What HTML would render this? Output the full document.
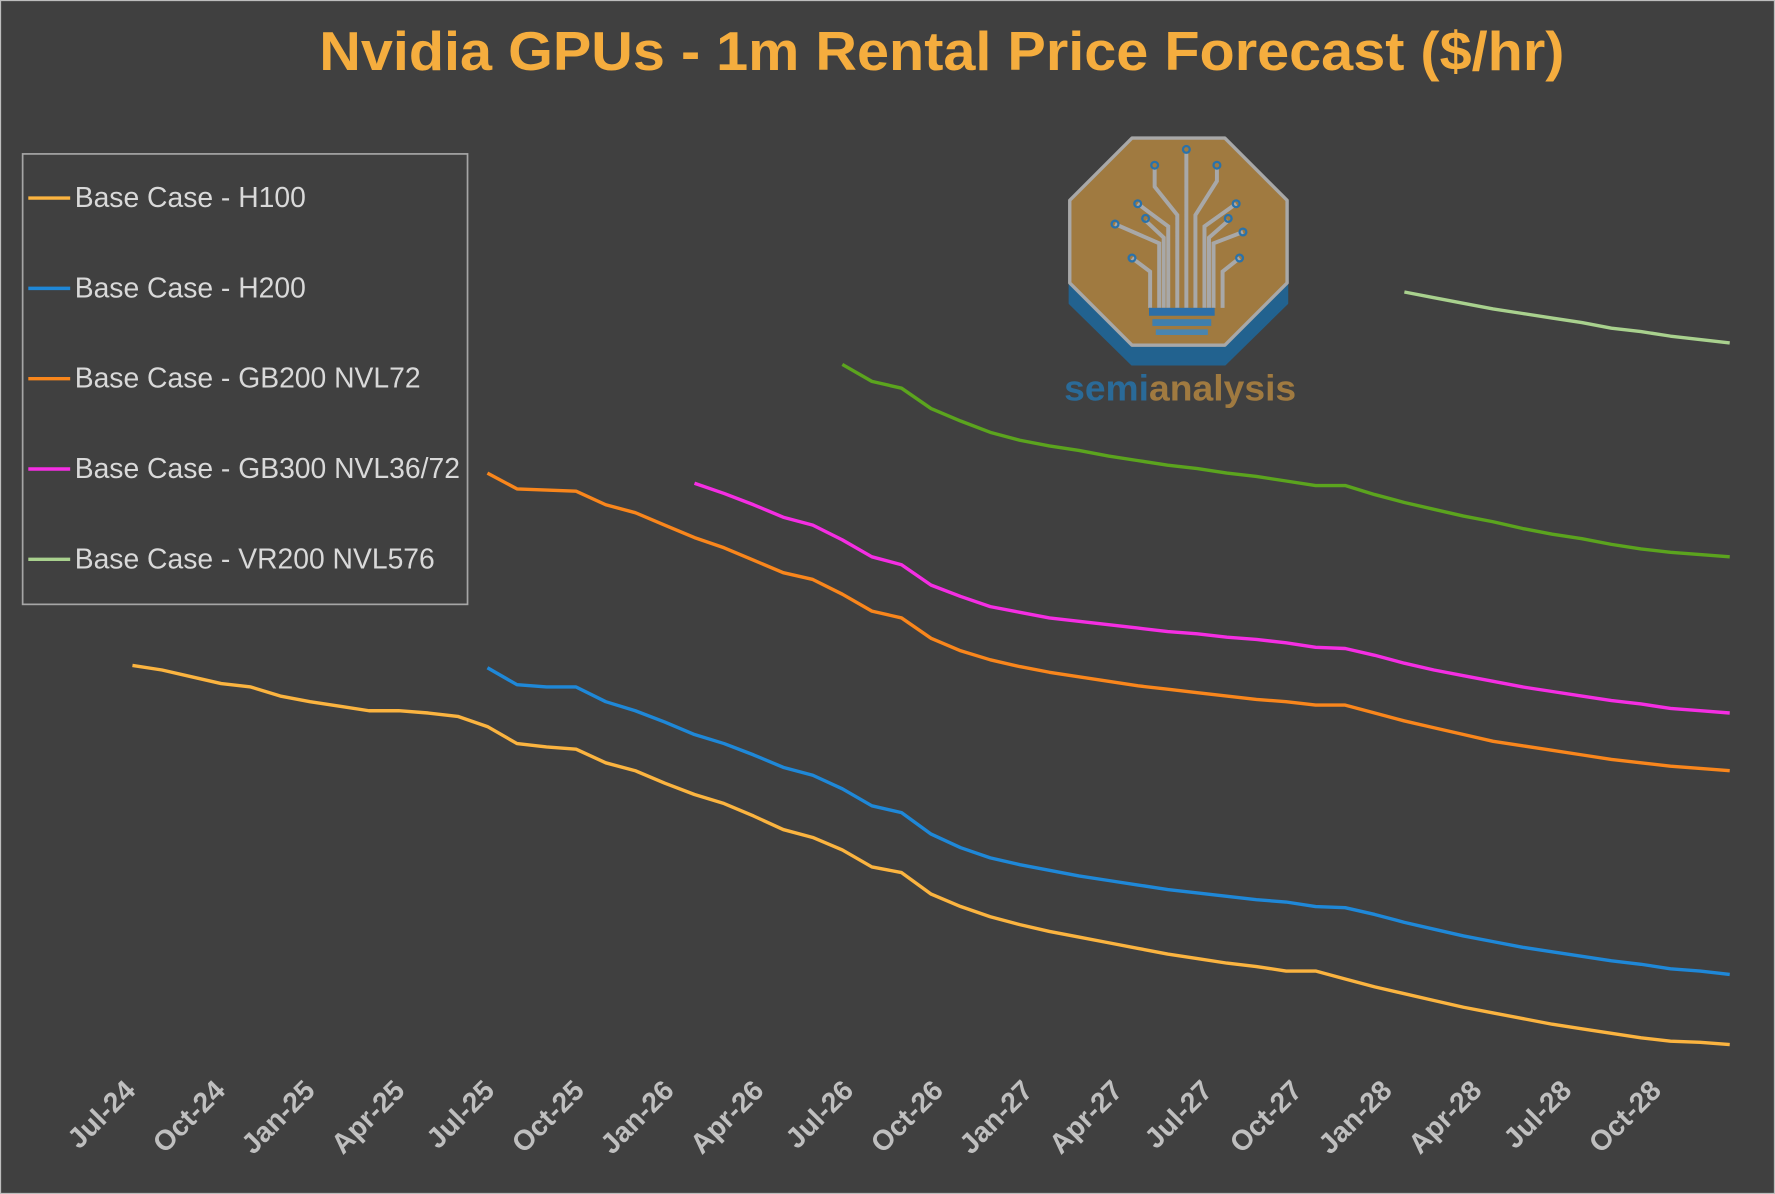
<!DOCTYPE html>
<html><head><meta charset="utf-8"><style>
html,body{margin:0;padding:0;background:#404040;}
svg{display:block;}
</style></head><body>
<svg id="chart" width="1775" height="1194" viewBox="0 0 1568 1055" preserveAspectRatio="none" xmlns="http://www.w3.org/2000/svg">
<rect x="0.5" y="0.5" width="1567" height="1054" fill="#404040" stroke="#bdbdbd" stroke-width="1"/>
<text x="832" y="62" text-anchor="middle" font-family="Liberation Sans, sans-serif" font-weight="bold" font-size="48" fill="#f5ad3e" textLength="1100" lengthAdjust="spacingAndGlyphs">Nvidia GPUs - 1m Rental Price Forecast ($/hr)</text>

<g>
  <polygon points="1000,140 1082,140 1137,195 1137,268 1082,322 1000,322 945,268 945,195" fill="#22628f" stroke="#22628f" stroke-width="2" stroke-linejoin="round"/>
  <polygon points="1000,122 1082,122 1137,177 1137,250 1082,305 1000,305 945,250 945,177" fill="#a07a40" stroke="#a8a8a8" stroke-width="3" stroke-linejoin="round"/>
  <g stroke="#a8a8a8" stroke-width="3.5" fill="none">
    <path d="M1040,272 V190 L1020,165 V148 M1048,272 V135 M1056,272 V190 L1075,160 V148 M1032,272 V200 L1005,180 M1064,272 V200 L1092,180 M1024,272 V215 L985,198 M1072,272 V215 L1098,205 M1016,272 V240 L1000,228 M1080,272 V240 L1095,228 M1028,272 V210 L1012,195 M1068,272 V210 L1085,195"/>
  </g>
  <g fill="none" stroke="#2a72aa" stroke-width="2">
    <circle cx="1020" cy="146" r="3"/><circle cx="1048" cy="132" r="3"/><circle cx="1075" cy="146" r="3"/>
    <circle cx="1005" cy="180" r="3"/><circle cx="1092" cy="180" r="3"/><circle cx="985" cy="198" r="3"/>
    <circle cx="1098" cy="205" r="3"/><circle cx="1000" cy="228" r="3"/><circle cx="1095" cy="228" r="3"/>
    <circle cx="1012" cy="193" r="3"/><circle cx="1085" cy="193" r="3"/>
  </g>
  <rect x="1015" y="272" width="58" height="7" fill="#2d6fa8"/>
  <rect x="1018" y="282" width="52" height="6" fill="#3f7fae"/>
  <rect x="1021" y="291" width="46" height="5" fill="#4a85af"/>
  <text x="940" y="354" font-family="Liberation Sans, sans-serif" font-weight="bold" font-size="32" textLength="205" lengthAdjust="spacingAndGlyphs"><tspan fill="#2a6a98">semi</tspan><tspan fill="#a07a40">analysis</tspan></text>
</g>

<g id="axis"></g>
<g id="series"></g>

<g>
  <rect x="20" y="136" width="393" height="398" fill="#404040" stroke="#a6a6a6" stroke-width="1.5"/>
  <g id="legend-items"></g>
</g>

<script>
const months = [];
const monthNames = ["Jan","Feb","Mar","Apr","May","Jun","Jul","Aug","Sep","Oct","Nov","Dec"];
for (let i = 0; i < 55; i++) { const m = (6 + i) % 12; const y = 24 + Math.floor((6 + i) / 12); months.push(monthNames[m] + "-" + y); }
const tickLabels = ["Jul-24","Oct-24","Jan-25","Apr-25","Jul-25","Oct-25","Jan-26","Apr-26","Jul-26","Oct-26","Jan-27","Apr-27","Jul-27","Oct-27","Jan-28","Apr-28","Jul-28","Oct-28"];
const seriesNames = ["Base Case - H100","Base Case - H200","Base Case - GB200 NVL72","Base Case - GB300 NVL36/72","Base Case - VR200 NVL576"];
const h100Start = 0;
const h100 = [4.12,4.08,4.02,3.96,3.93,3.85,3.80,3.76,3.72,3.72,3.70,3.67,3.58,3.43,3.40,3.38,3.26,3.19,3.08,2.98,2.90,2.79,2.67,2.60,2.49,2.34,2.29,2.10,1.99,1.90,1.83,1.77,1.72,1.67,1.62,1.57,1.53,1.49,1.46,1.42,1.42,1.35,1.28,1.22,1.16,1.10,1.05,1.00,0.95,0.91,0.87,0.83,0.80,0.79,0.77];
const h200Start = 12;
const h200 = [4.10,3.95,3.93,3.93,3.80,3.72,3.62,3.51,3.43,3.33,3.22,3.15,3.03,2.88,2.82,2.63,2.51,2.42,2.36,2.31,2.26,2.22,2.18,2.14,2.11,2.08,2.05,2.03,1.99,1.98,1.92,1.85,1.79,1.73,1.68,1.63,1.59,1.55,1.51,1.48,1.44,1.42,1.39];
const gb200Start = 12;
const gb200 = [5.82,5.68,5.67,5.66,5.54,5.47,5.36,5.25,5.16,5.05,4.94,4.88,4.75,4.60,4.54,4.36,4.25,4.17,4.11,4.06,4.02,3.98,3.94,3.91,3.88,3.85,3.82,3.80,3.77,3.77,3.70,3.63,3.57,3.51,3.45,3.41,3.37,3.33,3.29,3.26,3.23,3.21,3.19];
const gb300Start = 19;
const gb300 = [5.73,5.64,5.54,5.43,5.36,5.23,5.08,5.01,4.83,4.73,4.64,4.59,4.54,4.51,4.48,4.45,4.42,4.40,4.37,4.35,4.32,4.28,4.27,4.21,4.14,4.08,4.03,3.98,3.93,3.89,3.85,3.81,3.78,3.74,3.72,3.70];
const vr144Start = 24;
const vr144 = [6.78,6.63,6.57,6.39,6.28,6.18,6.11,6.06,6.02,5.97,5.93,5.89,5.86,5.82,5.79,5.75,5.71,5.71,5.63,5.56,5.50,5.44,5.39,5.33,5.28,5.24,5.19,5.15,5.12,5.10,5.08];
const vr576Start = 43;
const vr576 = [7.42,7.37,7.32,7.27,7.23,7.19,7.15,7.10,7.07,7.03,7.00,6.97];

const NS = "http://www.w3.org/2000/svg";
const x0 = 117, x1 = 1528, nM = 54;
function xScale(i){ return x0 + (x1 - x0) * i / nM; }
function yScale(v){ return 1000 - v * 100; }

const axis = document.getElementById("axis");
tickLabels.forEach((lab, k) => {
  const i = months.indexOf(lab);
  const x = xScale(i) + 4 + k * 0.9, y = 965;
  const t = document.createElementNS(NS, "text");
  
  
  t.setAttribute("x", x); t.setAttribute("y", y);
  t.setAttribute("text-anchor", "end");
  t.setAttribute("transform", "rotate(-45 " + x + " " + y + ")");
  t.setAttribute("font-family", "Liberation Sans, sans-serif");
  t.setAttribute("font-weight", "bold");
  t.setAttribute("font-size", "25");
  t.setAttribute("fill", "#bfbfbf");
  t.textContent = lab;
  axis.appendChild(t);
});

const seriesDefs = [
  {vals: vr144, start: vr144Start, color: "#5ba41e", name: "line-vr200-nvl144"},
  {vals: vr576, start: vr576Start, color: "#a9d18e", name: "line-vr200-nvl576"},
  {vals: gb300, start: gb300Start, color: "#f52ee3", name: "line-gb300"},
  {vals: gb200, start: gb200Start, color: "#f9861c", name: "line-gb200"},
  {vals: h200, start: h200Start, color: "#1f88d8", name: "line-h200"},
  {vals: h100, start: h100Start, color: "#fbb440", name: "line-h100"}
];
const sg = document.getElementById("series");
seriesDefs.forEach(s => {
  const pts = s.vals.map((v, k) => xScale(s.start + k).toFixed(1) + "," + yScale(v).toFixed(1)).join(" ");
  const p = document.createElementNS(NS, "polyline");
  
  
  p.setAttribute("points", pts);
  p.setAttribute("fill", "none");
  p.setAttribute("stroke", s.color);
  p.setAttribute("stroke-width", "3");
  p.setAttribute("stroke-linejoin", "round");
  sg.appendChild(p);
});

const legendColors = ["#fbb440","#1f88d8","#f9861c","#f52ee3","#a9d18e"];
const lg = document.getElementById("legend-items");
seriesNames.forEach((n, k) => {
  const y = 175 + k * 79.8;
  const l = document.createElementNS(NS, "line");
  
  
  l.setAttribute("x1", 25); l.setAttribute("x2", 62);
  l.setAttribute("y1", y); l.setAttribute("y2", y);
  l.setAttribute("stroke", legendColors[k]); l.setAttribute("stroke-width", "3");
  lg.appendChild(l);
  const t = document.createElementNS(NS, "text");
  
  
  t.setAttribute("x", 66); t.setAttribute("y", y + 8);
  t.setAttribute("font-family", "Liberation Sans, sans-serif");
  t.setAttribute("font-size", "25");
  t.setAttribute("fill", "#d9d9d9");
  t.textContent = n;
  lg.appendChild(t);
});
</script>
</svg>
</body></html>
